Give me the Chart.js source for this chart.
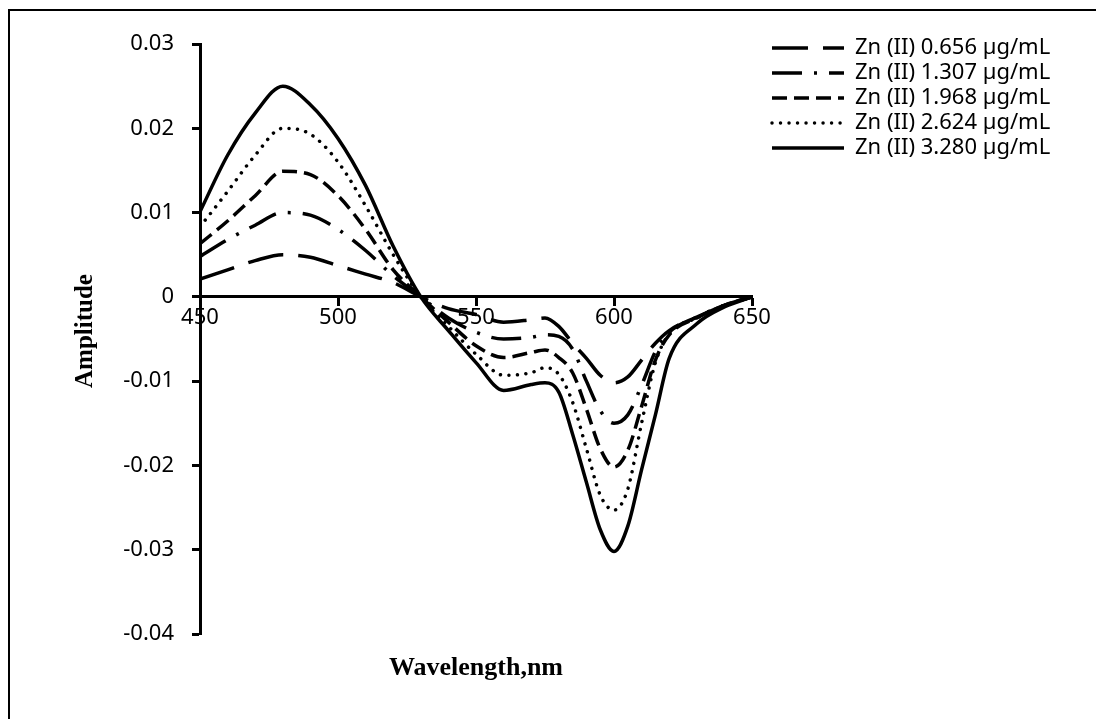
<!DOCTYPE html>
<html>
<head>
<meta charset="utf-8">
<title>Zn (II) derivative spectra</title>
<script src="https://cdn.jsdelivr.net/npm/chart.js@4.4.1/dist/chart.umd.min.js"></script>
<style>
  html, body { margin: 0; padding: 0; background: #fff; }
  #spectraChart { display: block; }
</style>
</head>
<body>
<canvas id="spectraChart" width="1096" height="719"></canvas>
<script>
// Wavelengths (nm) the curves were read at
const wavelengths = [450, 460, 470, 480, 490, 500, 510, 520, 530, 540, 550, 560, 570, 575,
                     580, 585, 590, 595, 600, 605, 610, 615, 620, 630, 640, 650];

// Amplitude for each concentration
const zn0656 = [0.0021, 0.0032, 0.0043, 0.0050, 0.0047, 0.0037, 0.0027, 0.0017, 0.0000, -0.0014, -0.0021, -0.0030, -0.0027, -0.0025,
                -0.0035, -0.0055, -0.0073, -0.0093, -0.0102, -0.0095, -0.0075, -0.0055, -0.0040, -0.0024, -0.0010, 0.0000];
const zn1307 = [0.0048, 0.0068, 0.0085, 0.0100, 0.0097, 0.0080, 0.0055, 0.0025, 0.0000, -0.0025, -0.0042, -0.0050, -0.0048, -0.0045,
                -0.0047, -0.0062, -0.0100, -0.0135, -0.0150, -0.0140, -0.0105, -0.0065, -0.0042, -0.0024, -0.0010, 0.0000];
const zn1968 = [0.0063, 0.0090, 0.0120, 0.0149, 0.0145, 0.0120, 0.0080, 0.0032, 0.0000, -0.0030, -0.0058, -0.0072, -0.0066, -0.0063,
                -0.0072, -0.0090, -0.0133, -0.0180, -0.0202, -0.0182, -0.0130, -0.0075, -0.0045, -0.0025, -0.0010, 0.0000];
const zn2624 = [0.0083, 0.0125, 0.0168, 0.0200, 0.0193, 0.0160, 0.0108, 0.0050, 0.0000, -0.0035, -0.0068, -0.0093, -0.0090, -0.0084,
                -0.0092, -0.0125, -0.0180, -0.0235, -0.0253, -0.0228, -0.0150, -0.0078, -0.0044, -0.0025, -0.0010, 0.0000];
const zn3280 = [0.0101, 0.0168, 0.0218, 0.0250, 0.0228, 0.0188, 0.0132, 0.0060, 0.0000, -0.0040, -0.0078, -0.0111, -0.0104, -0.0102,
                -0.0113, -0.0163, -0.0220, -0.0276, -0.0302, -0.0272, -0.0205, -0.0140, -0.0073, -0.0032, -0.0012, 0.0000];

const seriesLabels = ['Zn (II) 0.656 µg/mL', 'Zn (II) 1.307 µg/mL', 'Zn (II) 1.968 µg/mL',
                      'Zn (II) 2.624 µg/mL', 'Zn (II) 3.280 µg/mL'];

// Axis ticks
const xTickValues = [450, 500, 550, 600, 650];
const yTickValues = [-0.04, -0.03, -0.02, -0.01, 0, 0.01, 0.02, 0.03];

const toPoints = (values) => values.map((v, i) => ({ x: wavelengths[i], y: v }));

// Excel-like line styles: long dash, long dash dot, dash, round dot, solid
const lineStyles = [
  { dash: [36, 15], cap: 'butt' },
  { dash: [30, 12, 3, 12], cap: 'butt' },
  { dash: [15, 7], cap: 'butt' },
  { dash: [0.01, 8.5], cap: 'round' },
  { dash: [], cap: 'butt' }
];

const allSeries = [zn0656, zn1307, zn1968, zn2624, zn3280];

// Outer frame of the figure (only the left and top edges are inside the picture)
const framePlugin = {
  id: 'frame',
  beforeDraw(chart) {
    const ctx = chart.ctx;
    ctx.save();
    ctx.strokeStyle = '#000';
    ctx.lineWidth = 2;
    ctx.beginPath();
    ctx.moveTo(9, chart.height + 5);
    ctx.lineTo(9, 10);
    ctx.lineTo(chart.width + 5, 10);
    ctx.stroke();
    ctx.restore();
  }
};

// Axis titles sit away from the axes, so draw them by hand
const axisTitlesPlugin = {
  id: 'axisTitles',
  afterDraw(chart) {
    const { ctx, chartArea } = chart;
    ctx.save();
    ctx.fillStyle = '#000';
    ctx.textAlign = 'center';
    ctx.textBaseline = 'middle';
    ctx.font = "bold 26px 'Liberation Serif', 'Times New Roman', serif";
    ctx.fillText('Wavelength,nm', (chartArea.left + chartArea.right) / 2, chartArea.bottom + 34);
    ctx.translate(86, (chartArea.top + chartArea.bottom) / 2 - 8);
    ctx.rotate(-Math.PI / 2);
    ctx.font = "bold 25px 'Liberation Serif', 'Times New Roman', serif";
    ctx.fillText('Amplitude', 0, 0);
    ctx.restore();
  }
};

// Move the legend to the top right corner, beside the plot
const legendPlacePlugin = {
  id: 'legendPlace',
  afterLayout(chart) {
    const lg = chart.legend;
    if (!lg) return;
    lg.left = 769;
    lg.right = lg.left + lg.width;
    lg.top = 34;
    lg.bottom = lg.top + lg.height;
  }
};

document.addEventListener('DOMContentLoaded', () => {
  Chart.defaults.font.family = "'Noto Sans', 'Open Sans', sans-serif";
  Chart.defaults.color = '#000';

  const ctx = document.getElementById('spectraChart').getContext('2d');

  const datasets = allSeries.map((values, i) => ({
    label: seriesLabels[i],
    data: toPoints(values),
    borderColor: '#000',
    backgroundColor: '#000',
    borderWidth: 3.5,
    borderDash: lineStyles[i].dash,
    borderCapStyle: lineStyles[i].cap,
    pointRadius: 0,
    fill: false,
    cubicInterpolationMode: 'monotone'
  }));

  new Chart(ctx, {
    type: 'line',
    data: { datasets },
    options: {
      responsive: false,
      animation: false,
      layout: { padding: { left: 0, top: 44, right: 344, bottom: 85 } },
      scales: {
        x: {
          type: 'linear',
          min: 450,
          max: 650,
          position: { y: 0 },
          afterBuildTicks: (s) => { s.ticks = xTickValues.map(v => ({ value: v })); },
          ticks: { font: { size: 22 }, padding: 0, maxRotation: 0 },
          grid: { drawOnChartArea: false, drawTicks: true, tickLength: 8, tickWidth: 3, tickColor: '#000' },
          border: { display: true, color: '#000', width: 3 }
        },
        y: {
          min: -0.04,
          max: 0.03,
          afterFit: (s) => { s.width = 200; },
          afterBuildTicks: (s) => { s.ticks = yTickValues.map(v => ({ value: v })); },
          ticks: {
            font: { size: 22 },
            padding: 18,
            callback: (v) => Math.abs(v) < 1e-9 ? '0' : v.toFixed(2)
          },
          grid: { drawOnChartArea: false, drawTicks: true, tickLength: 8, tickWidth: 3, tickColor: '#000' },
          border: { display: true, color: '#000', width: 3 }
        }
      },
      plugins: {
        legend: {
          position: 'chartArea',
          align: 'start',
          labels: {
            usePointStyle: true,
            pointStyle: 'line',
            pointStyleWidth: 72,
            padding: 3,
            color: '#000',
            font: { size: 22 },
            // point-style items don't carry the dash pattern, so add it back
            generateLabels: (chart) =>
              Chart.defaults.plugins.legend.labels.generateLabels(chart).map((item) => ({
                ...item,
                lineDash: lineStyles[item.datasetIndex].dash,
                lineCap: lineStyles[item.datasetIndex].cap,
                lineWidth: 3.5
              }))
          }
        },
        tooltip: { enabled: false }
      }
    },
    plugins: [framePlugin, axisTitlesPlugin, legendPlacePlugin]
  });
});
</script>
</body>
</html>
